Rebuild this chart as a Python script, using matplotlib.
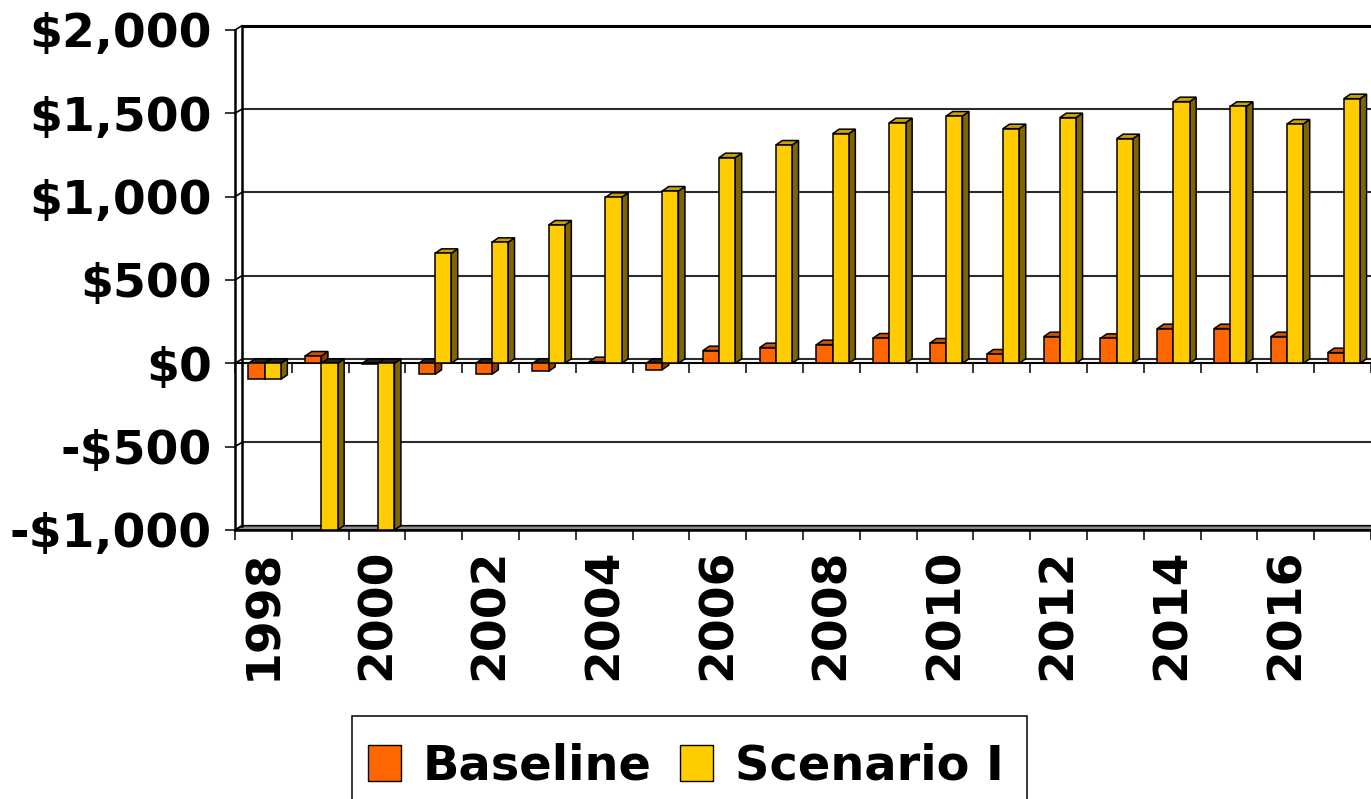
import matplotlib
matplotlib.use("Agg")
import matplotlib.pyplot as plt
from matplotlib.patches import Polygon, Patch, Rectangle
from matplotlib.ticker import FuncFormatter, FixedLocator

# ---- data -------------------------------------------------------------
years = list(range(1998, 2018))
baseline = [-96, 44, -4, -66, -66, -48, 10, -38, 76, 94, 112, 152, 122, 56,
            160, 150, 208, 208, 160, 64]
scenario = [-96, -1000, -1000, 660, 726, 830, 996, 1034, 1234, 1310, 1378,
            1444, 1484, 1408, 1474, 1348, 1570, 1542, 1436, 1588]
series_names = ["Baseline", "Scenario I"]
y_ticks = [-1000, -500, 0, 500, 1000, 1500, 2000]
label_years = [y for y in years if y % 2 == 0]

# ---- styling ----------------------------------------------------------
COLORS = {
    "Baseline": ("#FF6600", "#CC5200", "#933A00"),
    "Scenario I": ("#FFCC00", "#C9A100", "#7F6500"),
}
ZERO_FACE = "#222222"
FONT = "DejaVu Sans"

W, H = 1371, 799
fig = plt.figure(figsize=(W / 100, H / 100), dpi=100)
ax_l, ax_r, ax_t, ax_b = 235, 1371, 30, 530
ax = fig.add_axes([ax_l / W, (H - ax_b) / H, (ax_r - ax_l) / W, (ax_b - ax_t) / H])

n = len(years)
ymin, ymax = y_ticks[0], y_ticks[-1]
ax.set_xlim(0, n)
ax.set_ylim(ymin, ymax)

px_x = (ax_r - ax_l) / n            # pixels per category
px_y = (ax_b - ax_t) / (ymax - ymin)  # pixels per dollar

# depth offsets (pixel amounts converted to data units)
WALL_DX, WALL_DY = 7 / px_x, 4.3 / px_y
BAR_DX, BAR_DY = 6.5 / px_x, 4.5 / px_y

EDGE = dict(edgecolor="black", linewidth=1.1, joinstyle="miter")

# ---- walls, floor and gridlines ---------------------------------------
floor = Polygon([(0, ymin), (n + 1, ymin), (n + 1 + WALL_DX, ymin + WALL_DY),
                 (WALL_DX, ymin + WALL_DY)], closed=True,
                facecolor="#8C8C8C", zorder=1.5, clip_on=False, **EDGE)
ax.add_patch(floor)

for v in y_ticks:
    lw, col = (2.2, "black") if v == ymax else (1.5, "#2b2b2b")
    ax.plot([WALL_DX, n + 1], [v + WALL_DY] * 2, color=col, lw=lw,
            zorder=1, clip_on=False, solid_capstyle="butt")
    ax.plot([0, WALL_DX], [v, v + WALL_DY], color="black", lw=1.2,
            zorder=1.6, clip_on=False)

# back-wall left edge
ax.plot([WALL_DX, WALL_DX], [ymin + WALL_DY, ymax + WALL_DY], color="black",
        lw=1.8, zorder=1.6, clip_on=False)

# category axis through zero with its tick marks
ax.plot([0, n], [0, 0], color="black", lw=1.5, zorder=1.7, clip_on=False)
ax.vlines(range(n + 1), 0, -10 / px_y, color="black", lw=1.1, zorder=1.7,
          clip_on=False)


# ---- 3-D style columns -------------------------------------------------
def draw_columns(values, offset, width, colors, z):
    front, top, side = colors
    xs = [i + offset for i in range(n)]
    ax.bar(xs, values, width=width, align="edge", color=front, zorder=z + 0.2,
           **EDGE)
    for x0, v in zip(xs, values):
        x1 = x0 + width
        hi = max(v, 0)
        lo = min(v, 0)
        # side face
        ax.add_patch(Polygon([(x1, lo), (x1, hi), (x1 + BAR_DX, hi + BAR_DY),
                              (x1 + BAR_DX, lo + BAR_DY)], closed=True,
                             facecolor=side, zorder=z, clip_on=False, **EDGE))
        # upper face
        ax.add_patch(Polygon([(x0, hi), (x1, hi), (x1 + BAR_DX, hi + BAR_DY),
                              (x0 + BAR_DX, hi + BAR_DY)], closed=True,
                             facecolor=top if v >= 0 else ZERO_FACE,
                             zorder=z + 0.1, clip_on=False, **EDGE))


BAR_W = 0.285
draw_columns(baseline, 0.237, BAR_W, COLORS["Baseline"], 3)
draw_columns(scenario, 0.237 + BAR_W, BAR_W, COLORS["Scenario I"], 4)

# ---- axes -------------------------------------------------------------
for s in ("top", "right"):
    ax.spines[s].set_visible(False)
ax.spines["left"].set_linewidth(1.8)
ax.spines["bottom"].set_linewidth(1.8)
ax.spines["left"].set_zorder(1.8)
ax.spines["bottom"].set_zorder(1.8)


def money(v, pos):
    return f"-${abs(v):,.0f}" if v < 0 else f"${v:,.0f}"


ax.yaxis.set_major_locator(FixedLocator(y_ticks))
ax.yaxis.set_major_formatter(FuncFormatter(money))
ax.tick_params(axis="y", direction="out", length=7.2, width=1.1, pad=9.4,
               labelsize=34)

ax.xaxis.set_major_locator(FixedLocator(range(n + 1)))
ax.xaxis.set_minor_locator(FixedLocator([years.index(y) + 0.5 for y in label_years]))
ax.set_xticklabels([], minor=False)
ax.set_xticklabels([str(y) for y in label_years], minor=True, rotation=90)
ax.tick_params(axis="x", which="major", direction="out", length=7.2, width=1.1)
ax.tick_params(axis="x", which="minor", length=0, pad=13.5, labelsize=34)

for lab in ax.get_yticklabels() + ax.get_xticklabels(minor=True):
    lab.set_fontweight("bold")
    lab.set_family(FONT)

# ---- legend (box runs past the lower edge of the figure) --------------
box_l, box_t, box_r = 352, 716, 1027
fig.add_artist(Rectangle((box_l / W, -0.05), (box_r - box_l) / W,
                         (H - box_t) / H + 0.05, transform=fig.transFigure,
                         facecolor="white", edgecolor="black", linewidth=1.1,
                         zorder=5))
handles = [Patch(facecolor=COLORS[name][0], edgecolor="black", linewidth=1.0)
           for name in series_names]
leg = fig.legend(handles, series_names, loc="upper left",
                 bbox_to_anchor=(box_l / W, 1 - 727 / H), ncol=2,
                 prop={"family": FONT, "weight": "bold", "size": 34.5},
                 frameon=False, borderpad=0.33,
                 handlelength=0.69, handleheight=0.77, handletextpad=0.45,
                 columnspacing=0.6, borderaxespad=0)
leg.set_zorder(6)

fig.savefig("out.png", dpi=100)
